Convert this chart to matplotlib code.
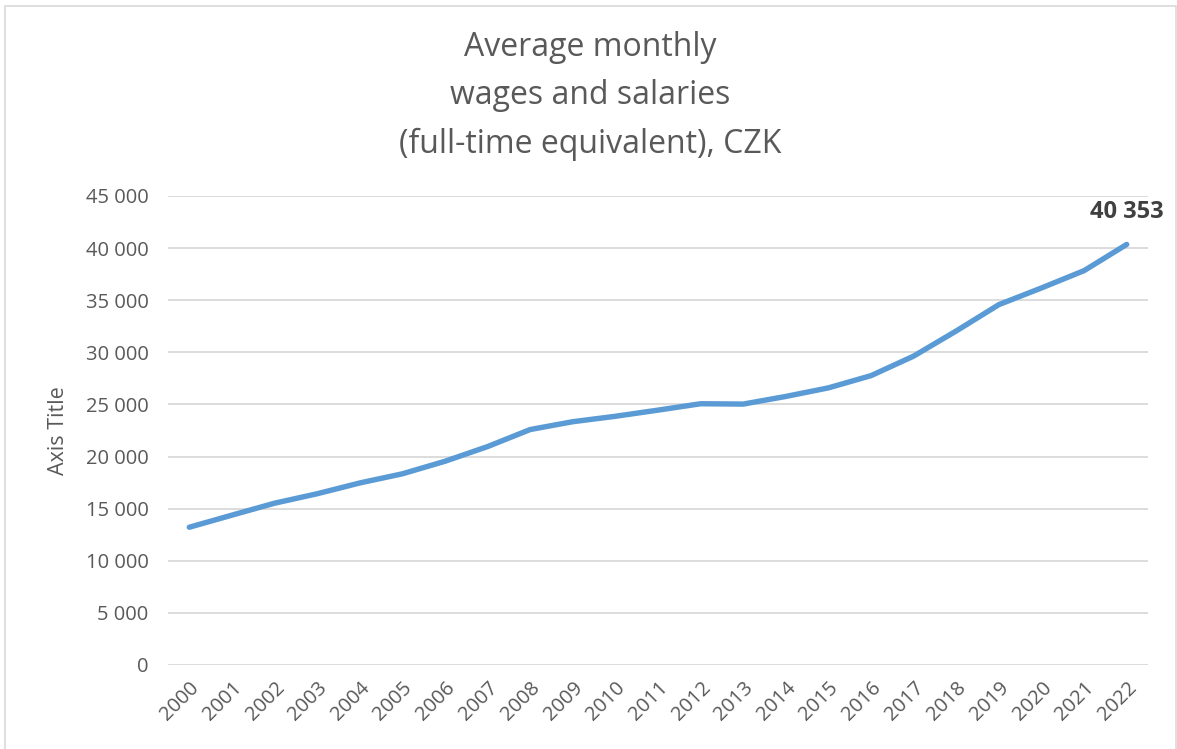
import matplotlib
matplotlib.use("Agg")
import matplotlib.pyplot as plt
from matplotlib.patches import Rectangle
from matplotlib.ticker import FuncFormatter, MultipleLocator

years = [str(y) for y in range(2000, 2023)]
wages = [13219, 14378, 15524, 16430, 17466, 18344, 19546, 20957, 22592, 23344,
         23864, 24455, 25067, 25035, 25768, 26591, 27764, 29638, 32051, 34578,
         36176, 37839, 40353]
title = "Average monthly\nwages and salaries\n(full-time equivalent), CZK"
y_title = "Axis Title"

W, H = 1177, 749
fig = plt.figure(figsize=(W / 100, H / 100), dpi=100)
plt.rcParams['font.family'] = ['Open Sans', 'DejaVu Sans']
gray = '#595959'

fig.patches.append(Rectangle((5 / W, -0.01), (1176 - 5) / W, 1 - 6 / H + 0.01,
                             transform=fig.transFigure, fill=False,
                             edgecolor='#D9D9D9', linewidth=1.2))

ax = fig.add_axes([168 / W, 1 - 665 / H, (1148 - 168) / W, (665 - 196) / H])
x = list(range(len(years)))
ax.plot(x, wages, color='#5B9BD5', linewidth=3.9, solid_capstyle='round',
        solid_joinstyle='round', zorder=3)
ax.set_xlim(-0.5, len(years) - 0.5)
ax.set_ylim(0, 45000)
ax.yaxis.set_major_locator(MultipleLocator(5000))
ax.yaxis.set_major_formatter(FuncFormatter(lambda v, p: f"{int(v):,}".replace(",", " ")))
ax.grid(axis='y', color='#D9D9D9', linewidth=1.3)
ax.set_axisbelow(True)
for s in ax.spines.values():
    s.set_visible(False)
ax.tick_params(axis='both', length=0, colors=gray, labelsize=14.5)
ax.tick_params(axis='y', pad=14)
ax.set_xticks(x)
ax.set_xticklabels(years, rotation=45, ha='right', va='top', rotation_mode='anchor')
ax.tick_params(axis='x', pad=9)
ax.set_ylabel(y_title, color=gray, fontsize=15.5, labelpad=12)

ax.annotate(f"{wages[-1]:,}".replace(",", " "), (x[-1], wages[-1]),
            xytext=(0, 15), textcoords='offset points', ha='center', va='bottom',
            fontsize=17, fontweight='bold', color='#404040')

fig.text(590 / W, 1 - 31 / H, title, ha='center', va='top', fontsize=23,
         color=gray, linespacing=1.62)

fig.savefig("out.png", dpi=100)
